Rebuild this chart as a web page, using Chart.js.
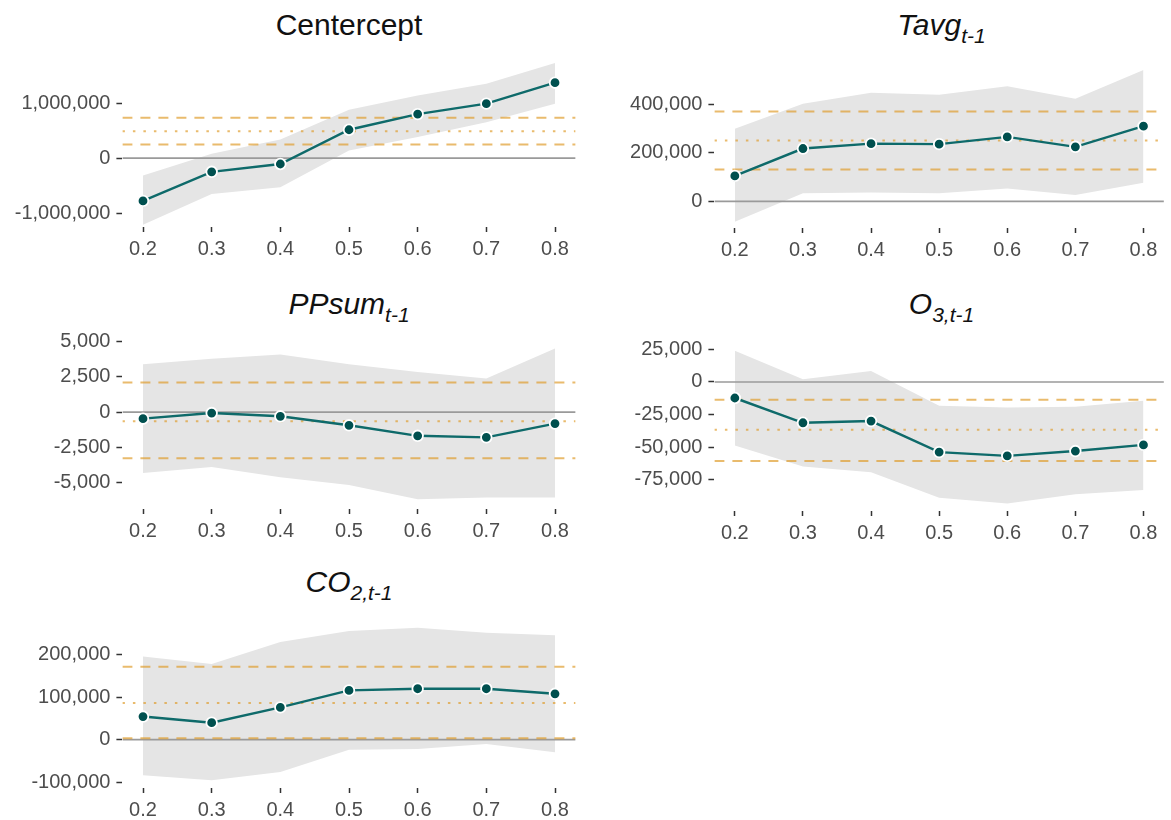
<!DOCTYPE html>
<html><head><meta charset="utf-8">
<script src="https://cdn.jsdelivr.net/npm/chart.js@4.4.1/dist/chart.umd.min.js"></script>
<style>
html,body{margin:0;padding:0;background:#fff;}
body{width:1171px;height:820px;position:relative;overflow:hidden;font-family:"Liberation Sans",Arial,sans-serif;}
canvas{position:absolute;}
.title{position:absolute;transform:translate(-50%,-50%);font-size:30px;color:#111;white-space:nowrap;line-height:1;}
.title sub{font-size:21px;position:relative;top:8px;vertical-align:baseline;line-height:0;}
</style>
</head><body>
<div class="title" style="left:349px;top:24.5px">Centercept</div>
<div class="title" style="left:941.5px;top:24.5px"><i>Tavg<sub>t-1</sub></i></div>
<div class="title" style="left:349px;top:303.5px"><i>PPsum<sub>t-1</sub></i></div>
<div class="title" style="left:941.5px;top:303.5px"><i>O<sub>3,t-1</sub></i></div>
<div class="title" style="left:349px;top:582px"><i>CO<sub>2,t-1</sub></i></div>
<canvas id="c1"></canvas><canvas id="c2"></canvas><canvas id="c3"></canvas><canvas id="c4"></canvas><canvas id="c5"></canvas>
<script>
// ---- data ----
const QUANTILES = [0.2, 0.3, 0.4, 0.5, 0.6, 0.7, 0.8];
const X_TICKS = [0.2, 0.3, 0.4, 0.5, 0.6, 0.7, 0.8];

const CENT_EST = [-776000, -248000, -106000, 516000, 800000, 990000, 1370000];
const CENT_LO  = [-1210000, -650000, -530000, 140000, 385000, 650000, 990000];
const CENT_HI  = [-317000, 80000, 340000, 880000, 1140000, 1350000, 1730000];
const CENT_OLS = [250000, 490000, 733000];   // lower CI, estimate, upper CI
const CENT_TICKS = [-1000000, 0, 1000000];

const TAVG_EST = [105000, 218000, 238000, 236000, 266000, 225000, 310000];
const TAVG_LO  = [-84000, 33000, 36000, 33000, 53000, 26000, 77000];
const TAVG_HI  = [300000, 403000, 448000, 440000, 475000, 423000, 542000];
const TAVG_OLS = [131000, 251000, 371000];
const TAVG_TICKS = [0, 200000, 400000];

const PP_EST = [-470, -70, -300, -940, -1690, -1800, -820];
const PP_LO  = [-4330, -3910, -4640, -5200, -6210, -6090, -6090];
const PP_HI  = [3400, 3800, 4100, 3400, 2860, 2390, 4520];
const PP_OLS = [-3280, -660, 2110];
const PP_TICKS = [-5000, -2500, 0, 2500, 5000];

const O3_EST = [-12300, -31300, -30000, -53800, -56700, -53000, -48300];
const O3_LO  = [-48800, -64800, -69200, -88800, -93200, -86200, -82800];
const O3_HI  = [24000, 2100, 8400, -18300, -19600, -19000, -14400];
const O3_OLS = [-60600, -36600, -13600];
const O3_TICKS = [-75000, -50000, -25000, 0, 25000];

const CO2_EST = [54400, 40000, 76000, 116000, 120000, 120000, 108000];
const CO2_LO  = [-84000, -96000, -76000, -24000, -22000, -10000, -30000];
const CO2_HI  = [196000, 178000, 230000, 256000, 264000, 252000, 246000];
const CO2_OLS = [3200, 86400, 172000];
const CO2_TICKS = [-100000, 0, 100000, 200000];

const XMIN = 0.17, XMAX = 0.83;

// ---- styles ----
const LINE_COLOR = '#0e6a6a';
const POINT_COLOR = '#00504f';
const BAND_COLOR = '#e5e5e5';
const ZERO_COLOR = '#9a9a9a';
const OLS_COLOR = 'rgba(222,155,40,0.68)';
const TICK_TEXT = '#4d4d4d';
const FONT = '"Liberation Sans", Arial, sans-serif';

function pts(vals) { return QUANTILES.map((q, i) => ({x: q, y: vals[i]})); }
function hline(v) { return [{x: XMIN, y: v}, {x: XMAX, y: v}]; }

function makePanel(id, g, d) {
  const PADTOP = 15, XAXIS_H = 40;
  const cv = document.getElementById(id);
  const top = g.plotTop - PADTOP;
  const h = Math.round(g.plotBottom - g.plotTop + PADTOP + XAXIS_H);
  cv.width = g.width; cv.height = h;
  cv.style.left = g.left + 'px'; cv.style.top = top + 'px';
  cv.style.width = g.width + 'px'; cv.style.height = h + 'px';
  const plain = {pointRadius: 0, pointHoverRadius: 0, fill: false, tension: 0};
  new Chart(cv, {
    type: 'line',
    data: {datasets: [
      Object.assign({data: pts(d.hi), borderWidth: 0, borderColor: 'rgba(0,0,0,0)', order: 4}, plain),
      Object.assign({}, plain, {data: pts(d.lo), borderWidth: 0, borderColor: 'rgba(0,0,0,0)', fill: '-1', backgroundColor: BAND_COLOR, order: 4}),
      Object.assign({data: hline(0), borderColor: ZERO_COLOR, borderWidth: 1.6, order: 3}, plain),
      Object.assign({data: hline(d.ols[0]), borderColor: OLS_COLOR, borderWidth: 2, borderDash: [10, 8], order: 2}, plain),
      Object.assign({data: hline(d.ols[1]), borderColor: OLS_COLOR, borderWidth: 2, borderDash: [2.5, 8], order: 2}, plain),
      Object.assign({data: hline(d.ols[2]), borderColor: OLS_COLOR, borderWidth: 2, borderDash: [10, 8], order: 2}, plain),
      {data: pts(d.est), borderColor: LINE_COLOR, borderWidth: 2.4, backgroundColor: POINT_COLOR,
       pointRadius: 5.3, pointBorderColor: '#ffffff', pointBorderWidth: 1.8, pointHoverRadius: 5.3, fill: false, order: 0}
    ]},
    options: {
      responsive: false, animation: false, devicePixelRatio: 1,
      layout: {padding: {top: PADTOP, left: 0, bottom: 0, right: (g.left + g.width) - g.plotRight}},
      plugins: {legend: {display: false}, tooltip: {enabled: false}, title: {display: false}},
      scales: {
        x: {
          type: 'linear', min: XMIN, max: XMAX,
          afterBuildTicks: (ax) => { ax.ticks = X_TICKS.map(v => ({value: v})); },
          afterFit: (ax) => { ax.height = XAXIS_H; ax.paddingLeft = 0; ax.paddingRight = 0; },
          ticks: {color: TICK_TEXT, font: {family: FONT, size: 20}, padding: 5, maxRotation: 0,
                  callback: (v) => Number(v).toFixed(1)},
          grid: {display: true, drawOnChartArea: false, drawTicks: true, tickLength: 5, tickColor: '#333', tickWidth: 1.5},
          border: {display: false}
        },
        y: {
          type: 'linear', min: d.ymin, max: d.ymax,
          afterBuildTicks: (ax) => { ax.ticks = d.ticks.map(v => ({value: v})); },
          afterFit: (ax) => { ax.width = g.plotLeft - g.left; ax.paddingTop = 0; ax.paddingBottom = 0; },
          ticks: {color: TICK_TEXT, font: {family: FONT, size: 20}, padding: 6,
                  callback: (v) => Number(v).toLocaleString('en-US')},
          grid: {display: true, drawOnChartArea: false, drawTicks: true, tickLength: 6, tickColor: '#333', tickWidth: 1.5},
          border: {display: false}
        }
      }
    }
  });
}

const LEFT = {left: 0, width: 590, plotLeft: 122.4, plotRight: 575.6};
const RIGHT = {left: 590, width: 581, plotLeft: 714.4, plotRight: 1168.6};

makePanel('c1', Object.assign({plotTop: 56, plotBottom: 227}, LEFT),
  {est: CENT_EST, lo: CENT_LO, hi: CENT_HI, ols: CENT_OLS, ticks: CENT_TICKS, ymin: -1250000, ymax: 1855000});
makePanel('c2', Object.assign({plotTop: 62, plotBottom: 228}, RIGHT),
  {est: TAVG_EST, lo: TAVG_LO, hi: TAVG_HI, ols: TAVG_OLS, ticks: TAVG_TICKS, ymin: -110000, ymax: 575000});
makePanel('c3', Object.assign({plotTop: 340.7, plotBottom: 509}, LEFT),
  {est: PP_EST, lo: PP_LO, hi: PP_HI, ols: PP_OLS, ticks: PP_TICKS, ymin: -6900, ymax: 5060});
makePanel('c4', Object.assign({plotTop: 342.8, plotBottom: 510.4}, RIGHT),
  {est: O3_EST, lo: O3_LO, hi: O3_HI, ols: O3_OLS, ticks: O3_TICKS, ymin: -99000, ymax: 29900});
makePanel('c5', Object.assign({plotTop: 620, plotBottom: 788}, LEFT),
  {est: CO2_EST, lo: CO2_LO, hi: CO2_HI, ols: CO2_OLS, ticks: CO2_TICKS, ymin: -114000, ymax: 282000});
</script>
</body></html>
